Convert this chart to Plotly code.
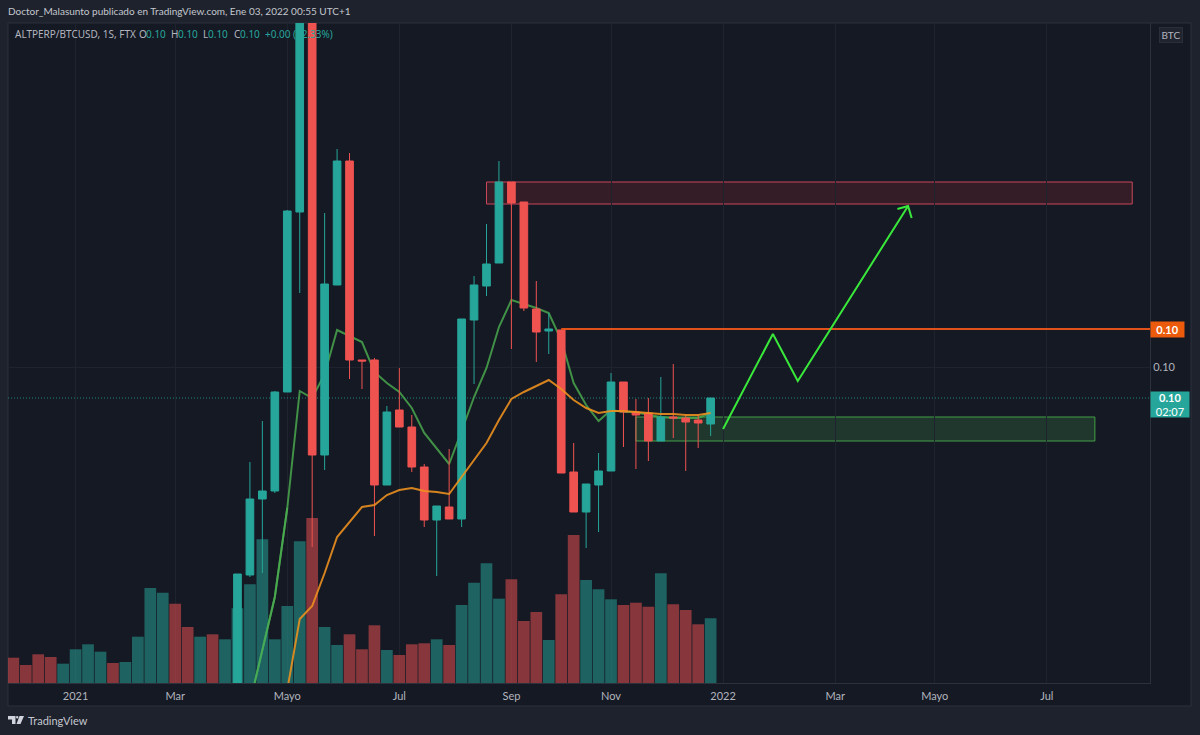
import pandas as pd
import plotly.graph_objects as go

# Weekly ALTPERP/BTCUSD candles (FTX), first volume week 2020-11-30
week_start = "2020-11-30"
n_weeks = 57
first_candle_week = 18
fast_ma_first_week = 19
slow_ma_first_week = 22

opens = [0.0839, 0.09115, 0.09495, 0.09535, 0.1003, 0.1093, 0.1219, 0.09715, 0.10565, 0.11185,
         0.1019, 0.1019, 0.09565, 0.0994, 0.09855, 0.09655, 0.0939, 0.09455, 0.09395, 0.1039,
         0.1056, 0.10675, 0.1108, 0.1098, 0.10445, 0.10335, 0.1034, 0.0963, 0.0943, 0.09565,
         0.09635, 0.1008, 0.0993, 0.09925, 0.09785, 0.09905, 0.099, 0.0989, 0.0987]
highs = [0.0912, 0.0968, 0.09885, 0.10035, 0.1094, 0.1219, 0.1219, 0.10925, 0.11245, 0.11225,
         0.1019, 0.102, 0.0996, 0.1015, 0.09915, 0.0967, 0.0946, 0.09745, 0.10395, 0.1061,
         0.1087, 0.11185, 0.1108, 0.1098, 0.10585, 0.10425, 0.1034, 0.09775, 0.0957, 0.09725,
         0.10125, 0.1008, 0.09995, 0.1, 0.10105, 0.1017, 0.09915, 0.09915, 0.1]
lows = [0.0839, 0.09105, 0.09125, 0.09525, 0.1003, 0.10525, 0.09255, 0.0964, 0.10565, 0.10095,
        0.10045, 0.0931, 0.09565, 0.09855, 0.0963, 0.09355, 0.0911, 0.09395, 0.09355, 0.1007,
        0.1051, 0.10675, 0.10245, 0.10435, 0.1018, 0.1022, 0.09625, 0.0943, 0.0925, 0.0933,
        0.09635, 0.09755, 0.09645, 0.09685, 0.09785, 0.098, 0.09635, 0.0975, 0.0981]
closes = [0.0912, 0.09495, 0.09535, 0.1003, 0.10935, 0.1219, 0.09715, 0.1057, 0.11185, 0.1019,
          0.10185, 0.09565, 0.0993, 0.09855, 0.09655, 0.0939, 0.0946, 0.09395, 0.10395, 0.10565,
          0.1067, 0.1108, 0.10975, 0.1045, 0.1033, 0.10345, 0.09625, 0.0943, 0.0957, 0.09635,
          0.1008, 0.0993, 0.09915, 0.09785, 0.09905, 0.099, 0.0988, 0.09875, 0.1]

volumes = [25.3, 18, 28.7, 26, 19.3, 33.7, 38.7, 31.3, 20, 21, 46.3, 95, 90.3, 79.3, 56, 46.3,
           48.7, 43.7, 74.7, 98.7, 143.7, 43.7, 77, 141.7, 165, 56, 38, 48.7, 33.7, 57.7,
           33, 28, 38.7, 39.7, 43.7, 38, 78, 100.3, 119.7, 84.3, 103.7, 62, 71, 43, 88.7, 148,
           103, 93.7, 83.7, 78, 80.3, 76.3, 109.7, 78.7, 73, 58.7, 64.7]
volume_up = [0, 0, 0, 0, 1, 1, 1, 1, 0, 1, 1, 1, 1, 0, 0, 1, 0, 1, 1, 1, 1, 1, 1, 1, 0, 1, 1, 0, 0, 0,
             1, 0, 0, 0, 1, 0, 1, 1, 1, 1, 0, 0, 0, 1, 0, 0, 1, 1, 1, 0, 0, 0, 1, 0, 0, 0, 1]

fast_ma = [0.08475, 0.0874, 0.09005, 0.0945, 0.10035, 0.1, 0.1012, 0.1034, 0.1031, 0.1028,
           0.1013, 0.10075, 0.1003, 0.0995, 0.09825, 0.09745, 0.0967, 0.09835, 0.10005, 0.1015,
           0.10355, 0.1049, 0.1047, 0.1045, 0.10425, 0.1029, 0.10075, 0.09965, 0.09885, 0.0994,
           0.0993, 0.0993, 0.09915, 0.09905, 0.099, 0.099, 0.099, 0.09925]
slow_ma = [0.0854, 0.08895, 0.0896, 0.09125, 0.09305, 0.0938, 0.09455, 0.09465, 0.09515, 0.0954,
           0.0955, 0.09535, 0.0953, 0.0952, 0.09605, 0.0969, 0.09775, 0.0989, 0.09995, 0.1003,
           0.1006, 0.1009, 0.10045, 0.0999, 0.0995, 0.09925, 0.09935, 0.09935, 0.0993, 0.09925,
           0.0992, 0.0992, 0.09915, 0.09915, 0.09925]

# Price scale and time scale
price_range = [0.08575, 0.11875]
time_range = ["2020-11-27", "2022-08-31"]
volume_range = [0, 660]
time_ticks = ["2021-01-04", "2021-03-01", "2021-05-03", "2021-07-05", "2021-09-06", "2021-11-01",
              "2022-01-03", "2022-03-07", "2022-05-02", "2022-07-04"]
time_labels = ["2021", "Mar", "Mayo", "Jul", "Sep", "Nov", "2022", "Mar", "Mayo", "Jul"]
price_ticks = [0.10155]
price_labels = ["0.10"]

# Drawings on the chart
last_price = 0.1
resistance_level = 0.10345
resistance_start = "2021-10-04"
supply_zone_time = ["2021-08-23", "2022-08-21"]
supply_zone_price = [0.1097, 0.1108]
demand_zone_time = ["2021-11-15", "2022-07-31"]
demand_zone_price = [0.09785, 0.09905]
path_time = ["2022-01-03", "2022-01-31", "2022-02-14", "2022-04-17"]
path_price = [0.09845, 0.1032, 0.10085, 0.1096]
head_time = ["2022-04-11", "2022-04-17", "2022-04-19"]
head_price = [0.10945, 0.1096, 0.109]

TEAL = "#26a69a"
RED = "#ef5350"
BG = "#1e222d"
PANE = "#151924"
GRID = "#1f232e"
BORDER = "#2d313c"
MUTED = "#b2b5be"
FAST = "#4caf50"
SLOW = "#f0921e"
LEVEL = "#e0521a"
ARROW = "#39e83a"
FONT = "Lato"
STATUS_FONT = "Noto Sans"

W, H = 1200, 735
L, R, T, B = 8, 1150, 23, 683


def px(x):
    return (x - L) / (R - L)


def py(y):
    return (B - y) / (B - T)


weeks = pd.date_range(week_start, periods=n_weeks, freq="7D")
candle_weeks = weeks[first_candle_week:]
fast_weeks = weeks[fast_ma_first_week:]
slow_weeks = weeks[slow_ma_first_week:]
n_fast_low = 4  # part of the fast average that runs over the volume pane

fig = go.Figure()

# Bottom layer: last price line and fast average, underneath the candles
fig.add_trace(go.Scatter(x=time_range, y=[last_price, last_price], mode="lines",
                         line=dict(color="rgba(38,166,154,0.75)", width=1, dash="1px,2px"), yaxis="y"))
fig.add_trace(go.Scatter(x=fast_weeks, y=fast_ma, mode="lines",
                         line=dict(color=FAST, width=2), opacity=0.8, yaxis="y"))

# Candles
fig.add_trace(go.Candlestick(
    x=candle_weeks, open=opens, high=highs, low=lows, close=closes, yaxis="y2",
    increasing=dict(line=dict(color=TEAL, width=1), fillcolor=TEAL),
    decreasing=dict(line=dict(color=RED, width=1), fillcolor=RED),
    whiskerwidth=0,
))

# Translucent volume bars
fig.add_trace(go.Bar(
    x=weeks, y=volumes, yaxis="y3",
    marker=dict(color=["rgba(38,166,154,0.52)" if up else "rgba(239,83,80,0.52)" for up in volume_up],
                line=dict(width=0)),
))

# Top layer: slow average, drawn levels and the projected path
fig.add_trace(go.Scatter(x=fast_weeks[:n_fast_low], y=fast_ma[:n_fast_low], mode="lines",
                         line=dict(color=FAST, width=2), opacity=0.8, yaxis="y4"))
fig.add_trace(go.Scatter(x=slow_weeks, y=slow_ma, mode="lines",
                         line=dict(color=SLOW, width=2), opacity=0.88, yaxis="y4"))
fig.add_trace(go.Scatter(x=[resistance_start, time_range[1]], y=[resistance_level, resistance_level],
                         mode="lines", line=dict(color=LEVEL, width=2), yaxis="y4"))
fig.add_trace(go.Scatter(x=path_time, y=path_price, mode="lines",
                         line=dict(color=ARROW, width=2), yaxis="y4"))
fig.add_trace(go.Scatter(x=head_time, y=head_price, mode="lines",
                         line=dict(color=ARROW, width=2), yaxis="y4"))

shapes = [
    # Frame of the chart pane including both axis strips
    dict(type="rect", xref="paper", yref="paper", layer="below",
         x0=px(L), x1=px(1191), y0=py(706), y1=py(T),
         fillcolor=PANE, line=dict(color=BORDER, width=1)),
    dict(type="rect", xref="x", yref="y", layer="below",
         x0=supply_zone_time[0], x1=supply_zone_time[1], y0=supply_zone_price[0], y1=supply_zone_price[1],
         fillcolor="rgba(242,54,69,0.15)", line=dict(color="#c9475a", width=1)),
    dict(type="rect", xref="x", yref="y", layer="below",
         x0=demand_zone_time[0], x1=demand_zone_time[1], y0=demand_zone_price[0], y1=demand_zone_price[1],
         fillcolor="rgba(76,175,80,0.2)", line=dict(color="#43a047", width=1)),
    # Logo mark
    dict(type="path", xref="paper", yref="paper", fillcolor="#d1d4dc", line=dict(width=0),
         path=(f"M {px(8)} {py(716)} L {px(15.5)} {py(716)} L {px(15.5)} {py(724)} L {px(12)} {py(724)} "
               f"L {px(12)} {py(719.5)} L {px(8)} {py(719.5)} Z")),
    dict(type="path", xref="paper", yref="paper", fillcolor="#d1d4dc", line=dict(width=0),
         path=(f"M {px(19.5)} {py(716)} L {px(24)} {py(716)} L {px(20.5)} {py(724)} L {px(16.5)} {py(724)} Z")),
    dict(type="circle", xref="paper", yref="paper", fillcolor="#d1d4dc", line=dict(width=0),
         x0=px(16), x1=px(18.4), y0=py(718.4), y1=py(716)),
]

annotations = [
    dict(x=px(6), y=py(11), text="Doctor_Malasunto publicado en TradingView.com, Ene 03, 2022 00:55 UTC+1",
         font=dict(color="#c4c7ce", size=10, family=FONT)),
    dict(x=px(26), y=py(720), text="TradingView", font=dict(color="#c4c7ce", size=11, family=FONT)),
]
# Status line segments
legend_parts = [
    (13, "ALTPERP/BTCUSD, 1S, FTX", MUTED), (137, "O", MUTED), (144, "0.10", TEAL), (169, "H", MUTED),
    (176, "0.10", TEAL), (201, "L", MUTED), (206, "0.10", TEAL), (232, "C", MUTED), (238, "0.10", TEAL),
    (263, "+0.00", TEAL), (291, "(+2.33%)", TEAL),
]
for x, text, color in legend_parts:
    annotations.append(dict(x=px(x), y=py(34), text=text, font=dict(color=color, size=10, family=STATUS_FONT)))
for a in annotations:
    a.update(xref="paper", yref="paper", xanchor="left", yanchor="middle", showarrow=False)

# Price tags on the right axis
annotations += [
    dict(xref="paper", yref="y", x=px(R), y=resistance_level, xanchor="left", yanchor="middle",
         showarrow=False, text="<b>0.10</b>", width=33, height=15, bgcolor="#ec5a0c", borderpad=0,
         font=dict(color="#ffffff", size=11, family=FONT)),
    dict(xref="paper", yref="paper", x=px(R), y=py(391), xanchor="left", yanchor="top",
         showarrow=False, text="<b>0.10</b><br>02:07", width=38, height=25, bgcolor=TEAL, borderpad=0,
         font=dict(color="#ffffff", size=11, family=FONT)),
    dict(xref="paper", yref="paper", x=px(1171), y=py(35), xanchor="center", yanchor="middle",
         showarrow=False, text="BTC", width=20, height=12, bgcolor="#20242f", bordercolor="#2a2e39",
         borderwidth=1, font=dict(color=MUTED, size=10, family=FONT)),
]

hidden_price = dict(overlaying="y", visible=False, range=price_range, fixedrange=True)

fig.update_layout(
    width=W, height=H, autosize=False,
    margin=dict(l=L, r=W - R, t=T, b=H - B, pad=0),
    paper_bgcolor=BG, plot_bgcolor="rgba(0,0,0,0)",
    showlegend=False, hovermode=False, boxgap=0.12, bargap=0.06,
    font=dict(family=FONT, color=MUTED, size=11),
    xaxis=dict(type="date", range=time_range, tickmode="array", tickvals=time_ticks, ticktext=time_labels,
               showgrid=True, gridcolor=GRID, gridwidth=1, zeroline=False, ticks="", showline=True,
               linecolor=BORDER, linewidth=1, rangeslider=dict(visible=False), fixedrange=True,
               ticklabelstandoff=3, tickfont=dict(color=MUTED, size=11, family=FONT)),
    yaxis=dict(range=price_range, side="right", tickmode="array", tickvals=price_ticks, ticktext=price_labels,
               showgrid=True, gridcolor=GRID, gridwidth=1, zeroline=False, ticks="", showline=True,
               linecolor=BORDER, linewidth=1, fixedrange=True,
               tickfont=dict(color=MUTED, size=11, family=FONT)),
    yaxis2=hidden_price,
    yaxis3=dict(overlaying="y", visible=False, range=volume_range, fixedrange=True),
    yaxis4=hidden_price,
    shapes=shapes, annotations=annotations,
)

fig.write_html("out.html", config=dict(displayModeBar=False))
